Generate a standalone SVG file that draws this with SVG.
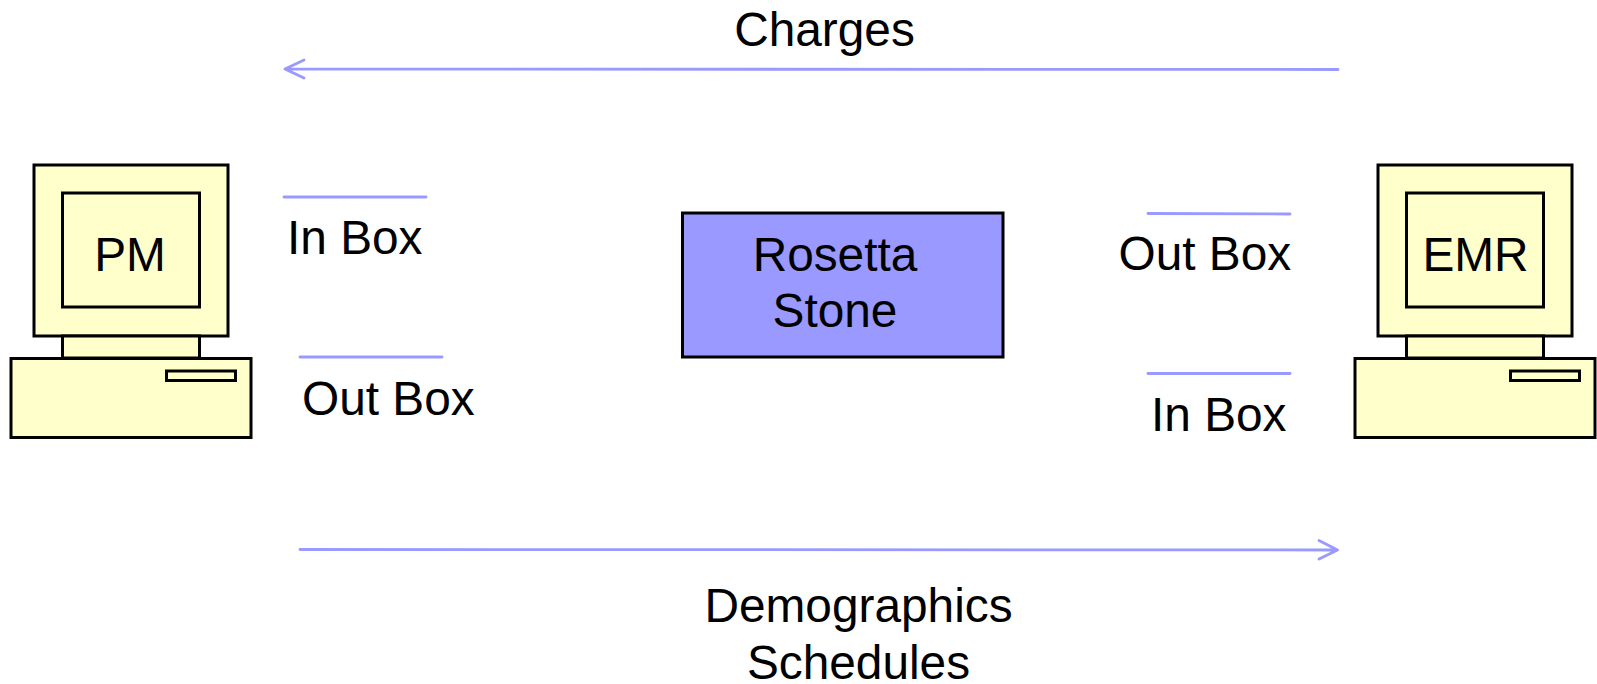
<svg xmlns="http://www.w3.org/2000/svg" width="1597" height="684" viewBox="0 0 1597 684">
<style>
.box{fill:#ffffcc;stroke:#000;stroke-width:3}
.t{font-family:"Liberation Sans",Arial,sans-serif;font-size:47.8px;fill:#000}
.m{text-anchor:middle}
.c{fill:none;stroke:#9999ff;stroke-width:2.8;stroke-linecap:round;stroke-linejoin:round}
</style>
<rect width="1597" height="684" fill="#fff"/>
<g id="connectors" class="c">
<path d="M1338 69.500L285 69M304 60L285 69L304 78"/>
<path d="M300 549.500L1337 550M1319 540.500L1337.500 550L1319 559"/>
<path d="M284 197H426"/>
<path d="M300 357H442"/>
<path d="M1148 213.500L1290 214"/>
<path d="M1148 373.500H1290"/>
</g>
<g id="pm">
<rect class="box" x="34" y="165" width="194" height="171"/>
<rect class="box" x="62.500" y="193" width="137" height="114"/>
<rect class="box" x="62.500" y="336" width="137" height="22"/>
<rect class="box" x="11" y="358.500" width="240" height="79"/>
<rect class="box" x="166.500" y="371" width="69" height="9.500"/>
<text class="t m" x="130" y="271">PM</text>
</g>
<g id="emr">
<rect class="box" x="1378" y="165" width="194" height="171"/>
<rect class="box" x="1406.500" y="193" width="137" height="114"/>
<rect class="box" x="1406.500" y="336" width="137" height="22"/>
<rect class="box" x="1355" y="358.500" width="240" height="79"/>
<rect class="box" x="1510.500" y="371" width="69" height="9.500"/>
<text class="t m" x="1475.500" y="271">EMR</text>
</g>
<g id="rosetta">
<rect x="682.500" y="213" width="320.500" height="144" fill="#9999ff" stroke="#000" stroke-width="3"/>
<text class="t m" x="835" y="271">Rosetta</text>
<text class="t m" x="835" y="327">Stone</text>
</g>
<g id="labels">
<text class="t m" x="824.500" y="46">Charges</text>
<text class="t" x="287" y="254">In Box</text>
<text class="t" x="302" y="414.500">Out Box</text>
<text class="t" x="1118.500" y="270">Out Box</text>
<text class="t" x="1151" y="430.500">In Box</text>
<text class="t m" x="858.500" y="622">Demographics</text>
<text class="t m" x="858.500" y="679">Schedules</text>
</g>
</svg>
